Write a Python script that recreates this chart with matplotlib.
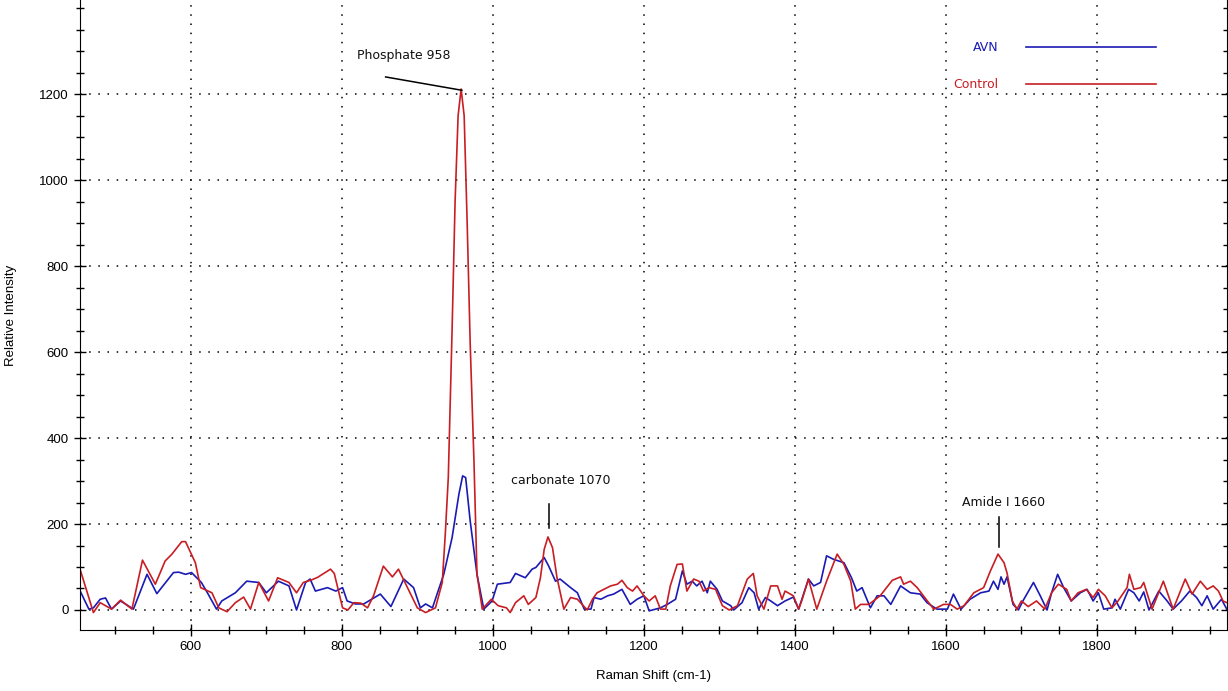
import numpy as np
import matplotlib
matplotlib.use("Agg")
import matplotlib.pyplot as plt
from matplotlib.ticker import MultipleLocator, FixedLocator
from matplotlib.lines import Line2D

# ---- data (Raman shift cm-1, relative intensity) ----
control_x = [454, 471, 480, 495, 507, 522, 536, 553, 566, 575, 588, 593, 606, 613, 628, 637,
             648, 659, 670, 679, 690, 703, 715, 730, 740, 749, 760, 768, 785, 790, 801, 808,
             816, 825, 834, 842, 855, 867, 875, 888, 900, 911, 924, 933, 937, 941, 946, 950,
             954, 958, 962, 966, 970, 975, 979, 986, 998, 1007, 1018, 1023, 1030, 1041, 1047,
             1057, 1063, 1068, 1073, 1079, 1085, 1094, 1103, 1112, 1125, 1132, 1138, 1156,
             1165, 1171, 1178, 1185, 1191, 1200, 1207, 1215, 1222, 1229, 1235, 1244, 1251,
             1257, 1266, 1273, 1279, 1286, 1295, 1304, 1313, 1324, 1337, 1345, 1350, 1359,
             1368, 1377, 1383, 1387, 1398, 1405, 1409, 1418, 1429, 1442, 1456, 1465, 1474,
             1480, 1487, 1498, 1513, 1529, 1540, 1544, 1553, 1562, 1575, 1584, 1597, 1606,
             1615, 1624, 1637, 1650, 1659, 1669, 1677, 1681, 1688, 1694, 1700, 1709, 1720,
             1731, 1740, 1749, 1760, 1766, 1775, 1786, 1795, 1802, 1811, 1820, 1828, 1840,
             1843, 1849, 1858, 1862, 1873, 1888, 1901, 1917, 1926, 1937, 1946, 1954, 1961,
             1967, 1972]
control_y = [91, -6, 17, 2, 23, 2, 116, 60, 114, 130, 159, 159, 110, 52, 40, 5,
             -4, 17, 30, 2, 64, 21, 75, 64, 40, 64, 70, 76, 95, 85, 5, 0,
             17, 16, 5, 33, 102, 77, 95, 48, 5, -6, 5, 64, 176, 308, 650, 950,
             1150, 1212, 1150, 900, 620, 346, 83, 2, 25, 10, 5, -6, 17, 33, 13,
             29, 75, 141, 170, 145, 75, 2, 29, 25, 0, 25, 40, 56,
             60, 69, 52, 44, 56, 33, 21, 33, 2, 2, 56, 106, 107,
             44, 72, 67, 44, 52, 48, 10, 0, 10, 72, 85, 33, 2,
             56, 56, 25, 44, 33, 2, 21, 72, 2, 67, 130, 106, 67,
             2, 13, 13, 33, 69, 77, 60, 67, 52, 22, 2, 13, 13,
             2, 10, 40, 52, 91, 130, 110, 86, 21, 2, 21, 8, 21,
             2, 40, 60, 48, 21, 40, 48, 29, 48, 33, 5, 21, 52,
             83, 48, 52, 64, 2, 67, 2, 72, 37, 67, 48, 56, 44,
             21, 17]

avn_x = [454, 465, 471, 480, 487, 495, 507, 524, 542, 555, 577, 584, 593, 601, 614, 622,
         634, 641, 659, 674, 690, 700, 716, 730, 740, 752, 758, 765, 781, 792, 801, 807,
         818, 829, 851, 865, 882, 895, 904, 911, 920, 935, 946, 955, 960, 964, 970, 979,
         988, 999, 1006, 1023, 1030, 1043, 1052, 1057, 1068, 1074, 1083, 1089, 1103, 1112,
         1121, 1130, 1134, 1143, 1152, 1160, 1171, 1182, 1191, 1200, 1207, 1222, 1231,
         1242, 1251, 1257, 1264, 1270, 1277, 1284, 1288, 1297, 1304, 1315, 1319, 1330,
         1339, 1346, 1352, 1361, 1368, 1377, 1387, 1398, 1405, 1418, 1425, 1434, 1442,
         1451, 1465, 1475, 1482, 1489, 1500, 1509, 1518, 1527, 1540, 1553, 1566, 1575,
         1588, 1602, 1610, 1620, 1632, 1646, 1657, 1663, 1669, 1673, 1677, 1681, 1689,
         1696, 1702, 1716, 1725, 1734, 1740, 1748, 1756, 1766, 1778, 1787, 1795, 1802,
         1809, 1820, 1824, 1831, 1842, 1849, 1856, 1862, 1869, 1882, 1893, 1901, 1912,
         1923, 1932, 1939, 1946, 1954, 1965, 1972]
avn_y = [42, 2, 5, 25, 28, 2, 21, 2, 83, 38, 87, 88, 83, 87, 64, 40,
         2, 21, 40, 67, 64, 40, 67, 56, 0, 64, 72, 44, 52, 44, 52, 21,
         14, 14, 37, 8, 72, 52, 5, 14, 5, 83, 168, 269, 312, 308, 207, 83,
         2, 21, 60, 64, 85, 75, 95, 99, 122, 102, 67, 72, 52, 40,
         2, 2, 29, 25, 33, 37, 48, 13, 25, 33, -2, 5, 13,
         25, 91, 60, 67, 56, 67, 40, 67, 48, 21, 10, 0, 17,
         52, 40, 2, 29, 21, 10, 21, 30, 2, 72, 56, 64, 126,
         118, 110, 75, 44, 52, 5, 33, 33, 13, 56, 40, 37, 17,
         2, 2, 37, 2, 25, 40, 44, 67, 48, 77, 60, 77, 13,
         0, 21, 64, 33, 0, 40, 83, 52, 21, 40, 48, 21, 40,
         2, 5, 25, 2, 48, 40, 21, 42, 0, 44, 21, 2, 21,
         44, 29, 10, 33, 2, 25, 2]

y_ticks = [0, 200, 400, 600, 800, 1000, 1200]

# annotations: label, text position, line start, line end
peak_labels = ["Phosphate 958", "carbonate 1070", "Amide I 1660"]
label_pos = [(882, 1290), (1090, 302), (1677, 249)]
line_from = [(858, 1240), (1074, 246), (1671, 216)]
line_to = [(959, 1209), (1074, 191), (1671, 147)]

red = "#c81e23"
blue = "#1a1ab4"

plt.rcParams["font.family"] = ["Liberation Sans", "DejaVu Sans"]

fig = plt.figure(figsize=(12.28, 6.91), dpi=100)
ax = fig.add_axes([0.065, 0.088, 0.934, 0.912])

ax.plot(avn_x, avn_y, color=blue, lw=1.2, label="AVN")
ax.plot(control_x, control_y, color=red, lw=1.2, label="Control")

ax.set_xlim(453, 1972)
ax.set_ylim(-47, 1419)
ax.xaxis.set_major_locator(MultipleLocator(200))
ax.xaxis.set_minor_locator(MultipleLocator(50))
ax.yaxis.set_major_locator(FixedLocator(y_ticks))
ax.yaxis.set_minor_locator(MultipleLocator(50))
ax.tick_params(which="major", direction="inout", length=9, width=1, labelsize=9.5,
               right=True, left=True, labelright=False)
ax.tick_params(which="minor", direction="inout", length=6, width=1, right=True)
ax.grid(True, which="major", color="black", linestyle=(0, (1, 5)), linewidth=1.1)
ax.spines["top"].set_visible(False)

ax.set_xlabel("Raman Shift (cm-1)", fontsize=9.5, labelpad=12)
ax.set_ylabel("Relative Intensity", fontsize=9.5)
ax.yaxis.set_label_coords(-0.055, 0.5)

for lab, tp, p0, p1 in zip(peak_labels, label_pos, line_from, line_to):
    ax.text(tp[0], tp[1], lab, ha="center", va="center", fontsize=9,
            family=["DejaVu Sans"], color="#111111")
    ax.plot([p0[0], p1[0]], [p0[1], p1[1]], color="black", lw=1.1)

handles = [Line2D([], [], color=blue, lw=1.2), Line2D([], [], color=red, lw=1.2)]
leg = ax.legend(handles, ["AVN", "Control"], loc="upper right",
                bbox_to_anchor=(0.948, 0.952), frameon=False, markerfirst=False,
                handlelength=10.4, labelspacing=1.9, handletextpad=2.2,
                prop={"family": "DejaVu Sans", "size": 9})
for txt, c in zip(leg.get_texts(), [blue, red]):
    txt.set_color(c)

fig.savefig("out.png", dpi=100)
